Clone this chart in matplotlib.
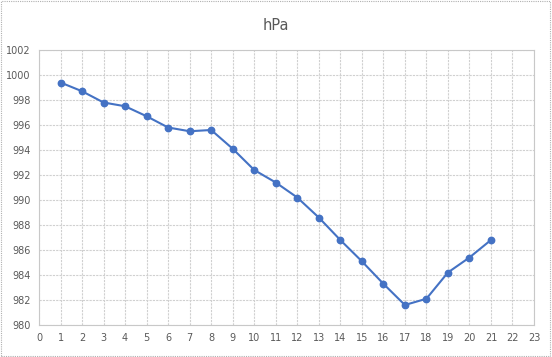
import matplotlib
matplotlib.use('Agg')
import matplotlib.pyplot as plt
from matplotlib.patches import Rectangle

# Data
hours = [1, 2, 3, 4, 5, 6, 7, 8, 9, 10, 11, 12, 13, 14, 15, 16, 17, 18, 19, 20, 21]
pressure = [999.4, 998.7, 997.8, 997.5, 996.7, 995.8, 995.5, 995.6, 994.1, 992.4,
            991.4, 990.2, 988.6, 986.8, 985.1, 983.3, 981.6, 982.1, 984.2, 985.4, 986.8]
x_ticks = list(range(0, 24))
y_ticks = list(range(980, 1003, 2))

fig = plt.figure(figsize=(5.52, 3.57), dpi=100)
ax = fig.add_axes([39 / 552, 32 / 357, 495 / 552, 275 / 357])

ax.plot(hours, pressure, color='#4472C4', linewidth=1.5, marker='o',
        markersize=4.6, markerfacecolor='#4472C4', markeredgecolor='#4472C4', zorder=3)

ax.set_xlim(0, 23)
ax.set_ylim(980, 1002)
ax.set_xticks(x_ticks)
ax.set_yticks(y_ticks)
ax.grid(True, color='#D0D0D0', linestyle=(0, (2, 1)), linewidth=0.8)
for s in ax.spines.values():
    s.set_color('#C8C8C8')
    s.set_linewidth(0.8)
ax.tick_params(length=0, labelsize=7, colors='#595959', pad=6)

fig.text(0.5, 1 - 26 / 357, 'hPa', ha='center', va='center', fontsize=10.5, color='#595959')

# dotted chart-area border
fig.patches.append(Rectangle((0.002, 0.003), 0.994, 0.994, transform=fig.transFigure,
                             fill=False, edgecolor='#B0B0B0', linestyle=(0, (1, 1)),
                             linewidth=0.8))

plt.savefig('out.png', dpi=100)
plt.close()
